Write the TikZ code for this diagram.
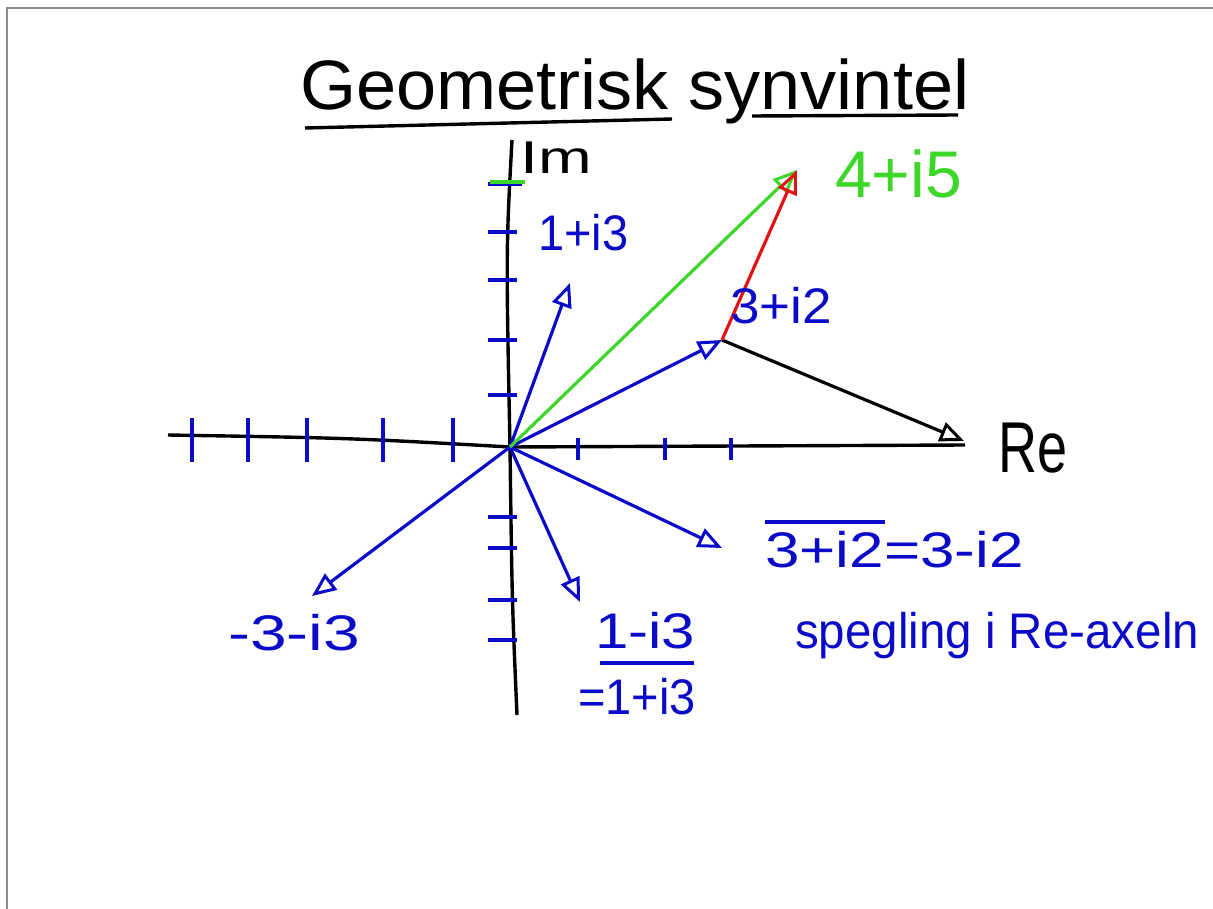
\documentclass[tikz,border=0pt]{standalone}
\usepackage{fontspec}
\setmainfont{Liberation Sans}
\usetikzlibrary{arrows.meta}
\definecolor{inkblue}{RGB}{10,10,200}
\definecolor{inkgreen}{RGB}{60,215,40}
\definecolor{inkred}{RGB}{225,20,20}
\definecolor{framegray}{RGB}{140,140,140}
\tikzset{
  vec/.style={line width=3.2pt,-{Triangle[open,length=24pt,width=20pt,line width=3pt]}},
  axisline/.style={line width=3.4pt,black},
  tick/.style={line width=3.4pt,inkblue},
  lbl/.style={inner sep=0pt,anchor=base west,font=\fontsize{50}{50}\selectfont},
}
\begin{document}
\begin{tikzpicture}[x=1pt,y=-1pt]
\useasboundingbox (0,0) rectangle (1213,909);
\fill[white] (0,0) rectangle (1213,909);
\draw[framegray,line width=2pt] (7,909) -- (7,8) -- (1213,8);
% title
\node[inner sep=0pt,anchor=base west,font=\fontsize{70}{70}\selectfont,xscale=1.03] (title) at (300,110) {Geometrisk synvintel};
\draw[line width=3.4pt] (305,128) -- (672,119);
\draw[line width=3.4pt] (752,116) -- (958,115);
% axes
\coordinate (O) at (510,447);
\draw[axisline] (512,140) .. controls (506,250) .. (O) .. controls (512,600) .. (517,715);
\draw[axisline] (168,435) .. controls (350,438) .. (O) -- (965,445);
\node[lbl,font=\fontsize{46}{46}\selectfont,xscale=1.4] (im) at (520,174) {Im};
\node[lbl,font=\fontsize{72}{72}\selectfont,xscale=0.75] (re) at (998,472) {Re};
% ticks
\foreach \x in {192,248,307,383,453} \draw[tick] (\x,418) -- (\x,462);
\foreach \x in {578,665,731} \draw[tick] (\x,438) -- (\x,460);
\foreach \y in {232,280,340,395,517,548,600,640} \draw[tick] (488,\y) -- (517,\y);
\draw[tick] (488,184) -- (522,184);
\draw[line width=3.4pt,inkgreen] (490,182) -- (525,182);
% points
\coordinate (A) at (570,283);
\coordinate (B) at (722,340);
\coordinate (C) at (722,548);
\coordinate (D) at (580,602);
\coordinate (E) at (312,596);
\coordinate (F) at (797,170);
\coordinate (G) at (964,441);
% vectors
\draw[vec,inkblue] (O) -- (A);
\draw[vec,inkblue] (O) -- (C);
\draw[vec,inkblue] (O) -- (D);
\draw[vec,inkblue] (O) -- (E);
\draw[vec,black] (B) -- (G);
\draw[vec,inkblue] (O) -- (B);
\draw[vec,inkgreen] (O) -- (F);
\draw[vec,inkred] (B) -- (F);
% labels
\node[lbl,inkblue,xscale=0.94] (l13) at (538,251) {1+i3};
\node[lbl,inkblue,xscale=1.06] (l32) at (730,324) {3+i2};
\node[lbl,inkgreen,font=\fontsize{66}{66}\selectfont] (l45) at (835,198) {4+i5};
\node[lbl,inkblue,xscale=1.24] (lconj) at (765,567) {3+i2=3-i2};
\draw[inkblue,line width=3.4pt] (765,522) -- (885,522);
\node[lbl,inkblue,xscale=0.95] (lspeg) at (795,648) {spegling i Re-axeln};
\node[lbl,inkblue,xscale=1.32] (lm33) at (228,650) {-3-i3};
\node[lbl,inkblue,xscale=1.2] (l1m3) at (595,648) {1-i3};
\node[lbl,inkblue,xscale=0.94] (leq) at (578,714) {=1+i3};
\draw[inkblue,line width=3.4pt] (600,663) -- (694,663);
\end{tikzpicture}
\end{document}
